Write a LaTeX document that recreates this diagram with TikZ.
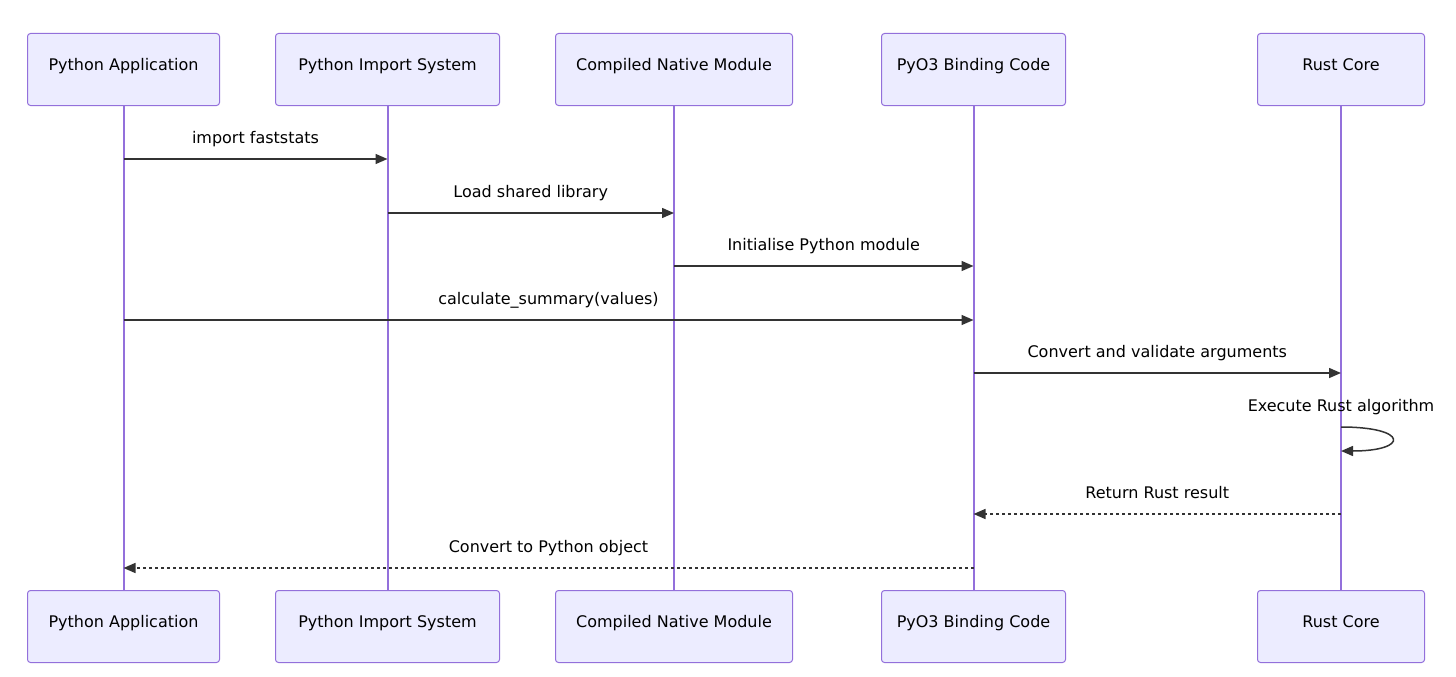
\documentclass[tikz,border=0pt]{standalone}
\usepackage{fontspec}
\setmainfont{DejaVu Sans}
\usetikzlibrary{arrows.meta}
\definecolor{actfill}{HTML}{ECECFF}
\definecolor{actline}{HTML}{9370DB}
\definecolor{msg}{HTML}{333333}
\tikzset{
  actor/.style={draw=actline, fill=actfill, line width=1pt, rounded corners=3pt, minimum height=72pt, inner sep=0pt, anchor=north west},
  lifeline/.style={draw=actline, line width=2pt},
  msgline/.style={draw=msg, line width=1.5pt, -{Triangle[length=12pt,width=10pt]}},
  retline/.style={msgline, dash pattern=on 3pt off 3pt},
  lbl/.style={font=\fontsize{16}{19}\selectfont, text=black, inner sep=0pt, text height=11.5pt, text depth=3.5pt},
  atext/.style={font=\fontsize{16}{19}\selectfont, text=black, inner sep=0pt, text height=11.5pt, text depth=3.5pt}
}
\begin{document}
\begin{tikzpicture}[x=1pt,y=-1pt]
\useasboundingbox (0,0) rectangle (1456,677);
% top actors
\node[actor, minimum width=192pt] (t1) at (27,33) {};
\node[actor, minimum width=224pt] (t2) at (275,33) {};
\node[actor, minimum width=237pt] (t3) at (555,33) {};
\node[actor, minimum width=184pt] (t4) at (881,33) {};
\node[actor, minimum width=167pt] (t5) at (1257,33) {};
% bottom actors
\node[actor, minimum width=192pt] (b1) at (27,590) {};
\node[actor, minimum width=224pt] (b2) at (275,590) {};
\node[actor, minimum width=237pt] (b3) at (555,590) {};
\node[actor, minimum width=184pt] (b4) at (881,590) {};
\node[actor, minimum width=167pt] (b5) at (1257,590) {};
% actor texts
\foreach \n/\t in {1/Python Application,2/Python Import System,3/Compiled Native Module,4/PyO3 Binding Code,5/Rust Core}{
  \node[atext] (tt\n) at ([yshift=3pt]t\n.center) {\t};
  \node[atext] (bt\n) at ([yshift=3pt]b\n.center) {\t};
}
% lifelines
\foreach \n in {1,...,5}{
  \draw[lifeline] (t\n.south) -- (b\n.north);
}
% message coordinates
\coordinate (m1a) at (t1.south |- 0,159);
\coordinate (m1b) at (t2.south |- 0,159);
\coordinate (m2a) at (t2.south |- 0,213);
\coordinate (m2b) at (t3.south |- 0,213);
\coordinate (m3a) at (t3.south |- 0,266);
\coordinate (m3b) at (t4.south |- 0,266);
\coordinate (m4a) at (t1.south |- 0,320);
\coordinate (m4b) at (t4.south |- 0,320);
\coordinate (m5a) at (t4.south |- 0,373);
\coordinate (m5b) at (t5.south |- 0,373);
\coordinate (m6a) at (t5.south |- 0,427);
\coordinate (m6b) at (t5.south |- 0,451);
\coordinate (m7a) at (t5.south |- 0,514);
\coordinate (m7b) at (t4.south |- 0,514);
\coordinate (m8a) at (t4.south |- 0,568);
\coordinate (m8b) at (t1.south |- 0,568);
% messages
\draw[msgline] (m1a) -- (m1b) node[lbl, midway, yshift=20pt] (l1) {import faststats};
\draw[msgline] (m2a) -- (m2b) node[lbl, midway, yshift=20pt] (l2) {Load shared library};
\draw[msgline] (m3a) -- (m3b) node[lbl, midway, yshift=20pt] (l3) {Initialise Python module};
\draw[msgline] (m4a) -- (m4b) node[lbl, midway, yshift=20pt] (l4) {calculate\_summary(values)};
\draw[msgline] (m5a) -- (m5b) node[lbl, midway, yshift=20pt] (l5) {Convert and validate arguments};
\draw[msgline] (m6a) .. controls ([xshift=68pt]m6a) and ([xshift=68pt]m6b) .. (m6b);
\node[lbl] (l6) at ([yshift=20pt]m6a) {Execute Rust algorithm};
\draw[retline] (m7a) -- (m7b) node[lbl, midway, yshift=20pt] (l7) {Return Rust result};
\draw[retline] (m8a) -- (m8b) node[lbl, midway, yshift=20pt] (l8) {Convert to Python object};
\end{tikzpicture}
\end{document}
